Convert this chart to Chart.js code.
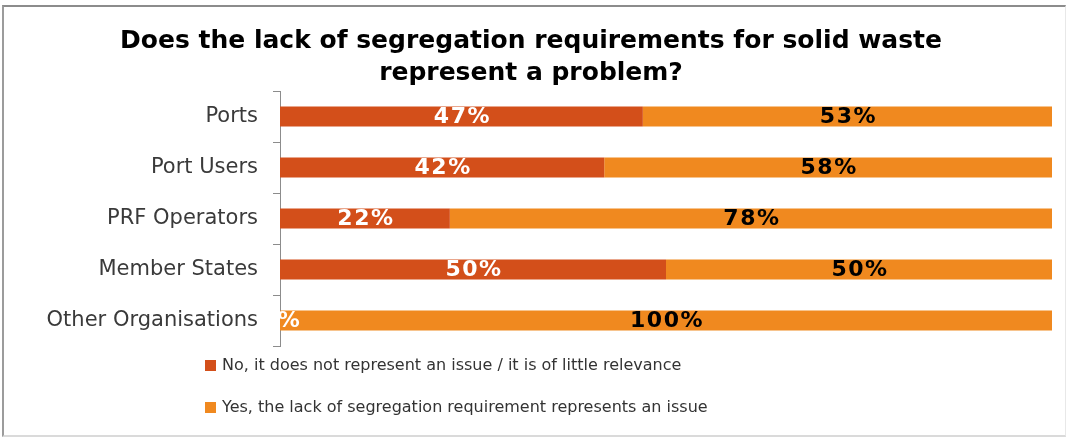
<!DOCTYPE html>
<html>
<head>
<meta charset="utf-8">
<script src="https://cdn.jsdelivr.net/npm/chart.js@4"></script>
<style>
  html, body { margin: 0; padding: 0; background: #fff; }
  #wrap { position: relative; width: 1067px; height: 439px; overflow: hidden; }
  #c { position: absolute; left: 0; top: 0; }
  #frame { position: absolute; left: 2px; top: 5px; width: 1061px; height: 428px;
    border-top: 2px solid #8c8c8c; border-left: 2px solid #9c9c9c;
    border-right: 1px solid #e8e8e8; border-bottom: 2px solid #dadada; pointer-events: none; }
</style>
</head>
<body>
<div id="wrap">
  <canvas id="c" width="1067" height="439"></canvas>
  <div id="frame"></div>
</div>
<script>
const titleLines = ['Does the lack of segregation requirements for solid waste', 'represent a problem?'];
const categories = ['Ports', 'Port Users', 'PRF Operators', 'Member States', 'Other Organisations'];
const seriesNames = ['No, it does not represent an issue / it is of little relevance',
                     'Yes, the lack of segregation requirement represents an issue'];
const noValues = [47, 42, 22, 50, 0];
const yesValues = [53, 58, 78, 50, 100];
const seriesColors = ['#D34F1A', '#F0891F'];
const labelColors = ['#FFFFFF', '#000000'];

const valueLabels = {
  id: 'valueLabels',
  afterDatasetsDraw(chart) {
    const ctx = chart.ctx, area = chart.chartArea;
    ctx.save();
    ctx.beginPath();
    ctx.rect(area.left, area.top, area.right - area.left, area.bottom - area.top);
    ctx.clip();
    ctx.font = 'bold 22px "DejaVu Sans"';
    try { ctx.letterSpacing = '1.5px'; } catch (e) {}
    ctx.textAlign = 'center';
    ctx.textBaseline = 'middle';
    chart.data.datasets.forEach((ds, di) => {
      const meta = chart.getDatasetMeta(di);
      meta.data.forEach((el, i) => {
        const cx = (el.x + el.base) / 2 + 1;
        ctx.fillStyle = labelColors[di];
        ctx.fillText(ds.data[i] + '%', cx, el.y + 1);
      });
    });
    ctx.restore();
  }
};

const customLegend = {
  id: 'customLegend',
  afterDraw(chart) {
    const ctx = chart.ctx;
    ctx.save();
    ctx.font = '16px "DejaVu Sans"';
    ctx.textAlign = 'left';
    ctx.textBaseline = 'middle';
    const rows = [365, 407];
    chart.data.datasets.forEach((ds, di) => {
      const y = rows[di];
      ctx.fillStyle = ds.backgroundColor;
      ctx.fillRect(205, y - 5, 11, 11);
      ctx.fillStyle = '#333333';
      ctx.fillText(ds.label, 222, y + 1);
    });
    ctx.restore();
  }
};

new Chart(document.getElementById('c'), {
  type: 'bar',
  data: {
    labels: categories,
    datasets: [
      { label: seriesNames[0], data: noValues, backgroundColor: seriesColors[0] },
      { label: seriesNames[1], data: yesValues, backgroundColor: seriesColors[1] }
    ]
  },
  options: {
    indexAxis: 'y',
    responsive: false,
    animation: false,
    devicePixelRatio: 1,
    layout: { padding: { left: 10, right: 15, top: 0, bottom: 93 } },
    datasets: { bar: { barPercentage: 0.39, categoryPercentage: 1.0, borderWidth: 0 } },
    plugins: {
      legend: { display: false },
      tooltip: { enabled: false },
      title: {
        display: true,
        text: titleLines,
        color: '#000000',
        font: { family: '"DejaVu Sans"', size: 25, weight: 'bold', lineHeight: 1.3 },
        padding: { top: 25, bottom: 1 }
      }
    },
    scales: {
      x: { stacked: true, min: 0, max: 100, display: false },
      y: {
        stacked: true,
        afterFit(s) { s.width = 270; },
        border: { display: true, color: '#8c8c8c', width: 1 },
        grid: { drawOnChartArea: false, drawTicks: true, tickLength: 7, color: '#8c8c8c', offset: true },
        ticks: { color: '#3a3a3a', font: { family: '"DejaVu Sans"', size: 21 }, padding: 15 }
      }
    }
  },
  plugins: [valueLabels, customLegend]
});
</script>
</body>
</html>
